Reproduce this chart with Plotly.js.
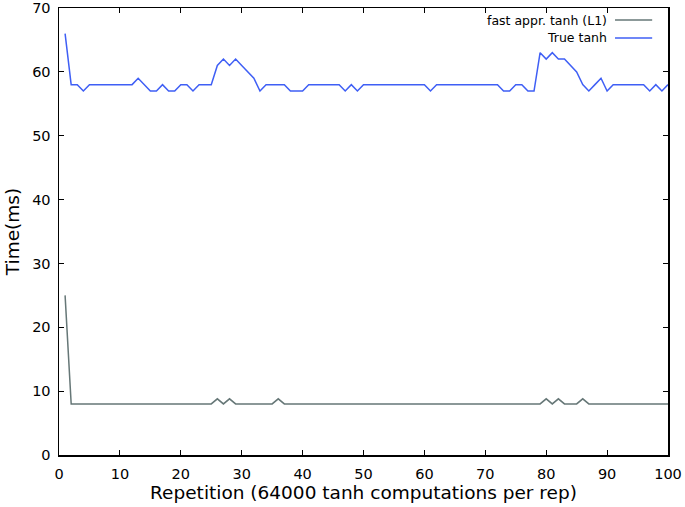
<!DOCTYPE html>
<html>
<head>
<meta charset="utf-8">
<script src="https://cdn.plot.ly/plotly-3.0.1.min.js"></script>
<style>
html,body{margin:0;padding:0;background:#fff;}
#chart{width:685px;height:507px;}
</style>
</head>
<body>
<div id="chart"></div>
<script>
// Repetition index
var reps = [1,2,3,4,5,6,7,8,9,10,11,12,13,14,15,16,17,18,19,20,
  21,22,23,24,25,26,27,28,29,30,31,32,33,34,35,36,37,38,39,40,
  41,42,43,44,45,46,47,48,49,50,51,52,53,54,55,56,57,58,59,60,
  61,62,63,64,65,66,67,68,69,70,71,72,73,74,75,76,77,78,79,80,
  81,82,83,84,85,86,87,88,89,90,91,92,93,94,95,96,97,98,99,100];

// fast appr. tanh (L1) times (ms)
var fastTanh = [25,8,8,8,8,8,8,8,8,8,8,8,8,8,8,8,8,8,8,8,
  8,8,8,8,8,8.8,8,8.8,8,8,8,8,8,8,8,8.8,8,8,8,8,
  8,8,8,8,8,8,8,8,8,8,8,8,8,8,8,8,8,8,8,8,
  8,8,8,8,8,8,8,8,8,8,8,8,8,8,8,8,8,8,8,8.8,
  8,8.8,8,8,8,8.8,8,8,8,8,8,8,8,8,8,8,8,8,8,8];

// True tanh times (ms)
var trueTanh = [66,58,58,57,58,58,58,58,58,58,58,58,59,58,57,57,58,57,57,58,
  58,57,58,58,58,61,62,61,62,61,60,59,57,58,58,58,58,57,57,57,
  58,58,58,58,58,58,57,58,57,58,58,58,58,58,58,58,58,58,58,58,
  57,58,58,58,58,58,58,58,58,58,58,58,57,57,58,58,57,57,63,62,
  63,62,62,61,60,58,57,58,59,57,58,58,58,58,58,58,57,58,57,58];

var seriesNames = ['fast appr. tanh (L1)', 'True tanh'];
var seriesColors = ['#667777', '#3f5ff5'];

var xTicks = [0,10,20,30,40,50,60,70,80,90,100];
var yTicks = [0,10,20,30,40,50,60,70];

var traces = [
  {x: reps, y: fastTanh, type: 'scatter', mode: 'lines', name: seriesNames[0],
   line: {color: seriesColors[0], width: 1.5}, showlegend: false},
  {x: reps, y: trueTanh, type: 'scatter', mode: 'lines', name: seriesNames[1],
   line: {color: seriesColors[1], width: 1.5}, showlegend: false}
];

var font = 'DejaVu Sans, sans-serif';

// manual legend (text right, sample line on the right, as in gnuplot)
var legendRows = [0.973, 0.933];
var annotations = seriesNames.map(function(n, i){
  return {xref:'paper', yref:'paper', x:0.903, y:legendRows[i], xanchor:'right', yanchor:'middle',
    text:n, showarrow:false, font:{family:font, size:12.5, color:'#000'}};
});
var shapes = seriesNames.map(function(n, i){
  return {type:'line', xref:'paper', yref:'paper', x0:0.913, x1:0.974, y0:legendRows[i], y1:legendRows[i],
    line:{color:seriesColors[i], width:1.5}};
});

var axisCommon = {
  showline: true, linecolor: '#000', linewidth: 1.5, mirror: 'ticks',
  ticks: 'inside', ticklen: 5, tickwidth: 1, tickcolor: '#000',
  showgrid: false, zeroline: false, tickmode: 'array',
  tickfont: {family: font, size: 14.5, color: '#000'}
};

var layout = {
  width: 685, height: 507,
  margin: {l: 59, r: 17, t: 8, b: 52},
  paper_bgcolor: '#fff', plot_bgcolor: '#fff',
  showlegend: false,
  xaxis: Object.assign({}, axisCommon, {
    range: [0, 100], tickvals: xTicks, ticktext: xTicks.map(String),
    ticklabelstandoff: 5,
    title: {text: 'Repetition (64000 tanh computations per rep)', font: {family: font, size: 18.5, color: '#000'}, standoff: 2}
  }),
  yaxis: Object.assign({}, axisCommon, {
    range: [0, 70], tickvals: yTicks, ticktext: yTicks.map(String),
    ticklabelstandoff: 4,
    title: {text: 'Time(ms)', font: {family: font, size: 18.5, color: '#000'}, standoff: 7}
  }),
  annotations: annotations,
  shapes: shapes
};

Plotly.newPlot('chart', traces, layout, {displayModeBar: false, staticPlot: true});
</script>
</body>
</html>
